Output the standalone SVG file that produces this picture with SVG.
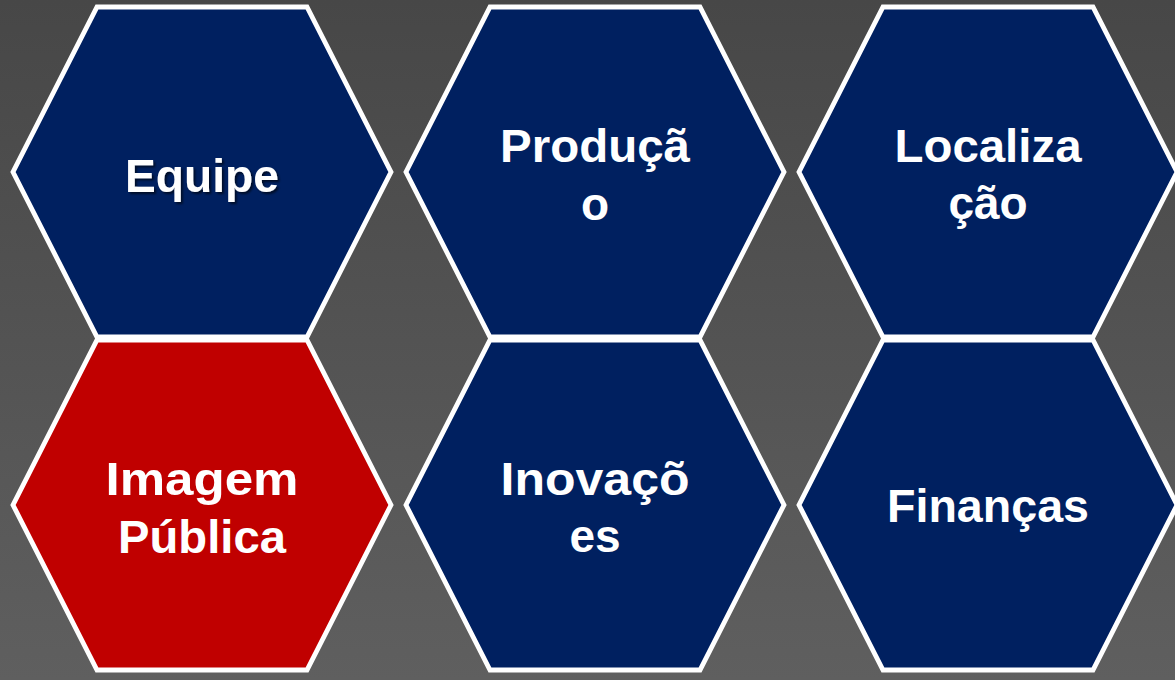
<svg xmlns="http://www.w3.org/2000/svg" width="1175" height="680" viewBox="0 0 1175 680">
  <defs>
    <linearGradient id="bg" x1="0" y1="0" x2="0" y2="1">
      <stop offset="0" stop-color="#474747"/>
      <stop offset="1" stop-color="#5f5f5f"/>
    </linearGradient>
    <polygon id="hex" points="-105,-165 105,-165 189,0 105,165 -105,165 -189,0"/>
    <filter id="shadow" x="-20%" y="-20%" width="140%" height="160%">
      <feDropShadow dx="2" dy="2" stdDeviation="1.2" flood-color="#000000" flood-opacity="0.6"/>
    </filter>
  </defs>
  <style>
    .hex { stroke: #ffffff; stroke-width: 4.8; stroke-linejoin: miter; }
    .blue { fill: #002060; }
    .red { fill: #c00000; }
    .lbl { font-family: "Liberation Sans", Arial, sans-serif; font-weight: bold; font-size: 46px; fill: #ffffff; text-anchor: middle; }
  </style>
  <rect x="0" y="0" width="1175" height="680" fill="url(#bg)"/>

  <g id="connectors"></g>

  <g id="node-equipe" transform="translate(202,172)">
    <use href="#hex" class="hex blue"/>
    <text class="lbl" x="0" y="20" textLength="154" lengthAdjust="spacingAndGlyphs" filter="url(#shadow)">Equipe</text>
  </g>

  <g id="node-producao" transform="translate(595,172)">
    <use href="#hex" class="hex blue"/>
    <text class="lbl" x="0" y="-10" textLength="190" lengthAdjust="spacingAndGlyphs">Produçã</text>
    <text class="lbl" x="0" y="48">o</text>
  </g>

  <g id="node-localizacao" transform="translate(988,172)">
    <use href="#hex" class="hex blue"/>
    <text class="lbl" x="0" y="-10" textLength="187" lengthAdjust="spacingAndGlyphs">Localiza</text>
    <text class="lbl" x="0" y="47">ção</text>
  </g>

  <g id="node-imagem" transform="translate(202,505)">
    <use href="#hex" class="hex red"/>
    <text class="lbl" x="0" y="-10" textLength="193" lengthAdjust="spacingAndGlyphs">Imagem</text>
    <text class="lbl" x="0" y="48" textLength="168" lengthAdjust="spacingAndGlyphs">Pública</text>
  </g>

  <g id="node-inovacoes" transform="translate(595,505)">
    <use href="#hex" class="hex blue"/>
    <text class="lbl" x="0" y="-10" textLength="189" lengthAdjust="spacingAndGlyphs">Inovaçõ</text>
    <text class="lbl" x="0" y="47">es</text>
  </g>

  <g id="node-financas" transform="translate(988,505)">
    <use href="#hex" class="hex blue"/>
    <text class="lbl" x="0" y="17" textLength="202" lengthAdjust="spacingAndGlyphs">Finanças</text>
  </g>
</svg>
